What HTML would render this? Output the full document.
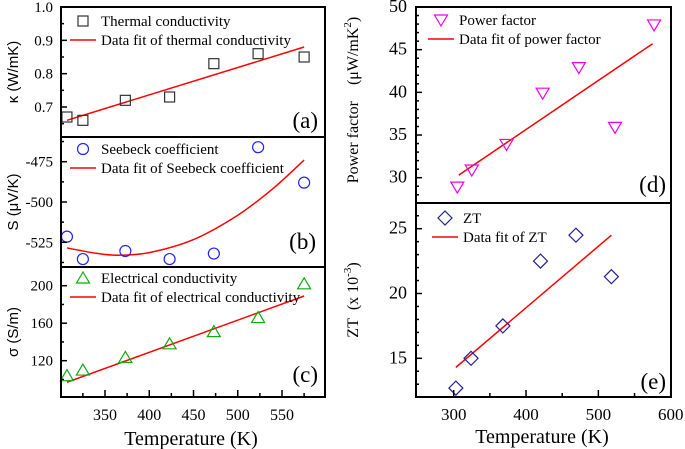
<!DOCTYPE html>
<html><head><meta charset="utf-8"><style>
html,body{margin:0;padding:0;background:#fff}
svg{display:block}
</style></head><body>
<svg id="fig" width="685" height="449" viewBox="0 0 685 449" xmlns="http://www.w3.org/2000/svg"></svg>
<script>
// ---- data ----
const tempA = [307,325,373,423,473,523,575];
const kappaVals = [0.67,0.66,0.72,0.73,0.83,0.86,0.85];
const kappaFitT = [307,575];
const kappaFitV = [0.66,0.88];
const seebeckVals = [-521.5,-535.4,-530.4,-535.4,-532,-466,-488];
const seebeckFitT = [307,340,365,400,450,500,540,575];
const seebeckFitV = [-528.5,-531.8,-533,-531.4,-523.3,-508.2,-491.6,-474];
const sigmaVals = [104,110,123.5,138,151,166,202];
const sigmaFitT = [307,575];
const sigmaFitV = [97,189];
const tempD = [305,325,373,423,473,523,577];
const pfVals = [28.9,30.9,33.9,39.9,42.9,35.9,47.9];
const pfFitT = [307,575];
const pfFitV = [30.3,45.7];
const tempE = [303,324,368,420,469,518];
const ztVals = [12.7,15,17.5,22.5,24.5,21.3];
const ztFitT = [303,518];
const ztFitV = [14.3,24.5];
const leftXTicks = [350,400,450,500,550];
const rightXTicks = [300,400,500,600];

const SERIF = "font-family:'Liberation Serif','Times New Roman',serif";
const SANS = "font-family:'Liberation Sans',Arial,sans-serif";
const svg = document.getElementById('fig');
const NS = 'http://www.w3.org/2000/svg';
function mk(tag, attrs, parent){const e=document.createElementNS(NS,tag);for(const k in attrs)e.setAttribute(k,attrs[k]);if(tag==='text'&&!attrs.style)e.setAttribute('style',SERIF);(parent||svg).appendChild(e);return e;}
function lin(d0,d1,r0,r1){return v=>r0+(v-d0)*(r1-r0)/(d1-d0);}

const xL = lin(350,550,105,282);
const xR = lin(300,600,453.7,670.7);

function yTicks(g, x0, y, lo, hi, major, minor, labels, fs, dx){
  for(let v=Math.ceil(lo/minor)*minor; v<=hi+1e-9; v+=minor){
    const isMaj = Math.abs(Math.round(v/major)*major - v) < 1e-6;
    const t=mk('line',{x1:x0,x2:x0+(isMaj?6:3),y1:y(v),y2:y(v),stroke:'#000','stroke-width':1.5},g);
    
    
  }
  labels.forEach(v=>{
    const t=mk('text',{x:x0-dx,y:y(v)+5,'text-anchor':'end','font-size':fs},g);
    t.textContent=v;
    
    
  });
}
function fitLine(g, x, y, T, V){
  const P=T.map((t,i)=>[x(t),y(V[i])]);
  let d='M'+P[0][0]+','+P[0][1];
  if(P.length===2){d+=' L'+P[1][0]+','+P[1][1];}
  else{
    for(let i=0;i<P.length-1;i++){
      const p0=P[Math.max(0,i-1)],p1=P[i],p2=P[i+1],p3=P[Math.min(P.length-1,i+2)];
      const c1=[p1[0]+(p2[0]-p0[0])/6,p1[1]+(p2[1]-p0[1])/6];
      const c2=[p2[0]-(p3[0]-p1[0])/6,p2[1]-(p3[1]-p1[1])/6];
      d+=` C${c1[0]},${c1[1]} ${c2[0]},${c2[1]} ${p2[0]},${p2[1]}`;
    }
  }
  const p=mk('path',{d:d,fill:'none',stroke:'#f00','stroke-width':1.5},g);
  
  
}
function marker(g, type, cx, cy, col){
  let e;
  if(type==='sq') e=mk('rect',{x:cx-5,y:cy-5,width:10,height:10,fill:'none',stroke:col,'stroke-width':1.2},g);
  if(type==='ci') e=mk('circle',{cx:cx,cy:cy,r:5.5,fill:'none',stroke:col,'stroke-width':1.2},g);
  if(type==='tu') e=mk('polygon',{points:`${cx},${cy-6} ${cx-6.5},${cy+5} ${cx+6.5},${cy+5}`,fill:'none',stroke:col,'stroke-width':1.2},g);
  if(type==='td') e=mk('polygon',{points:`${cx},${cy+6} ${cx-6.5},${cy-5} ${cx+6.5},${cy-5}`,fill:'none',stroke:col,'stroke-width':1.2},g);
  if(type==='di') e=mk('polygon',{points:`${cx},${cy-7} ${cx+7},${cy} ${cx},${cy+7} ${cx-7},${cy}`,fill:'none',stroke:col,'stroke-width':1.2},g);
  
  
}
function legend(g, x, y, type, col, t1, t2, lx1, lx2){
  marker(g,type,x,y,col);
  const a=mk('text',{x:x+18,y:y+5,'font-size':15},g); a.textContent=t1;
   
  mk('line',{x1:lx1,x2:lx2,y1:y+19,y2:y+19,stroke:'#f00','stroke-width':1.5},g);
  const b=mk('text',{x:x+18,y:y+24,'font-size':15},g); b.textContent=t2;
   
}
function panel(name, x, y, T, V, type, col, fT, fV, leg, tag, tagX, tagY){
  const g=mk('g',{});
  
  
  fitLine(g,x,y,fT,fV);
  T.forEach((t,i)=>marker(g,type,x(t),y(V[i]),col));
  legend(g,...leg);
  const l=mk('text',{x:tagX,y:tagY,'font-size':23,'text-anchor':'end'},g); l.textContent=tag;
   
  return g;
}
function rotLabel(x,y,txt,fs,st,name){
  const t=mk('text',{x:0,y:0,transform:`translate(${x},${y}) rotate(-90)`,'text-anchor':'middle','font-size':fs,style:st});
  t.innerHTML=txt;
  
  
}

// ---- panel a ----
const yA = lin(0.7,1.0,107,7);
const gA=panel('panel-a-thermal',xL,yA,tempA,kappaVals,'sq','#333',kappaFitT,kappaFitV,[83,21,'sq','#333','Thermal conductivity','Data fit of thermal conductivity',70,96],'(a)',318,128);
yTicks(gA,61,yA,0.62,1.0,0.1,0.05,[0.7,0.8,0.9,1.0],15,8);
[...gA.querySelectorAll('text')].forEach(t=>{if(t.textContent==='1')t.textContent='1.0';});
rotLabel(18,72,'κ (W/mK)',15,SANS,'y-axis-title-kappa');

// ---- panel b ----
const yB = lin(-475,-525,161.7,242.3);
const gB=panel('panel-b-seebeck',xL,yB,tempA,seebeckVals,'ci','#22f',seebeckFitT,seebeckFitV,[83,149,'ci','#22f','Seebeck coefficient','Data fit of Seebeck coefficient',70,96],'(b)',316,249);
yTicks(gB,61,yB,-537.5,-462.5,25,12.5,[-475,-500,-525],15,8);
rotLabel(18,202,'S (μV/K)',15,SANS,'y-axis-title-seebeck');

// ---- panel c ----
const yC = lin(120,200,360.7,285.7);
const gC=panel('panel-c-electrical',xL,yC,tempA,sigmaVals,'tu','#1a1',sigmaFitT,sigmaFitV,[83,278,'tu','#1a1','Electrical conductivity','Data fit of electrical conductivity',70,96],'(c)',318,382);
yTicks(gC,61,yC,100,220,40,20,[120,160,200],15,8);
rotLabel(18,332,'σ (S/m)',15,SANS,'y-axis-title-sigma');

// left frame
mk('rect',{x:61,y:7,width:264,height:390,fill:'none',stroke:'#000','stroke-width':2});
mk('line',{x1:61,x2:325,y1:137,y2:137,stroke:'#000','stroke-width':2});
mk('line',{x1:61,x2:325,y1:267,y2:267,stroke:'#000','stroke-width':2});
for(let t=325;t<=575;t+=25){const maj=t%50===0;mk('line',{x1:xL(t),x2:xL(t),y1:397,y2:397-(maj?7:4),stroke:'#000','stroke-width':1.5});}
leftXTicks.forEach(t=>{const e=mk('text',{x:xL(t),y:420,'text-anchor':'middle','font-size':16});e.textContent=t;});
const xt1=mk('text',{x:191,y:445,'text-anchor':'middle','font-size':20});xt1.textContent='Temperature (K)';


// ---- panel d ----
const yD = lin(30,50,177.7,7);
const gD=panel('panel-d-power-factor',xR,yD,tempD,pfVals,'td','#e0e',pfFitT,pfFitV,[441,20,'td','#e0e','Power factor','Data fit of power factor',428,454],'(d)',666,192);
yTicks(gD,416,yD,28,50,5,1,[30,35,40,45,50],18,9);
rotLabel(358,100,'Power factor&#160;&#160;&#160;&#160;(μW/mK<tspan dy="-7" font-size="11">2</tspan><tspan dy="7">)</tspan>',16,SERIF,'y-axis-title-power-factor');

// ---- panel e ----
const yE = lin(15,25,358.3,228.7);
const gE=panel('panel-e-zt',xR,yE,tempE,ztVals,'di','#229',ztFitT,ztFitV,[445,218,'di','#229','ZT','Data fit of ZT',432,458],'(e)',666,389);
yTicks(gE,416,yE,12.2,27,5,1,[15,20,25],18,9);
rotLabel(358,300,'ZT&#160;&#160;(x 10<tspan dy="-7" font-size="11">-3</tspan><tspan dy="7">)</tspan>',16,SERIF,'y-axis-title-zt');

mk('rect',{x:416,y:7,width:255,height:390,fill:'none',stroke:'#000','stroke-width':2});
mk('line',{x1:416,x2:671,y1:203,y2:203,stroke:'#000','stroke-width':2});
for(let t=300;t<=600;t+=50){const maj=t%100===0;mk('line',{x1:xR(t),x2:xR(t),y1:397,y2:397-(maj?7:4),stroke:'#000','stroke-width':1.5});}
rightXTicks.forEach(t=>{const e=mk('text',{x:xR(t),y:420,'text-anchor':'middle','font-size':17});e.textContent=t;});
const xt2=mk('text',{x:542,y:443,'text-anchor':'middle','font-size':20});xt2.textContent='Temperature (K)';

</script>
</body></html>
